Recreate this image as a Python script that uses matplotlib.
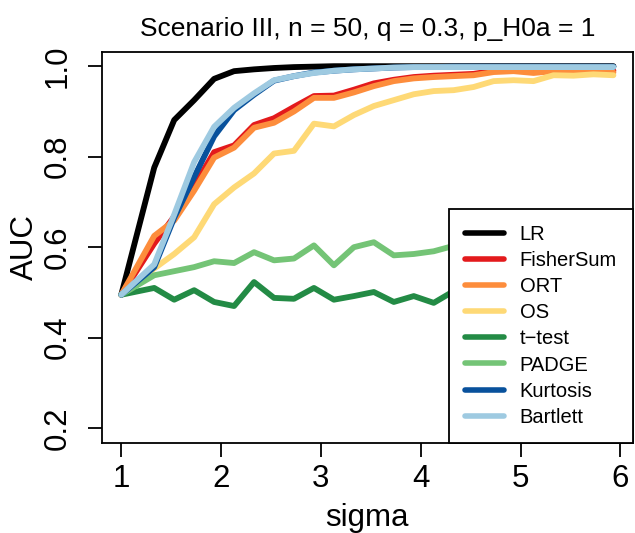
import matplotlib
matplotlib.use("Agg")
import matplotlib.pyplot as plt

plt.rcParams['font.family'] = ['Liberation Sans', 'DejaVu Sans']

sigma = [1.0, 1.33, 1.53, 1.73, 1.93, 2.13, 2.33, 2.53, 2.73, 2.93, 3.13, 3.33, 3.53,
         3.73, 3.93, 4.13, 4.33, 4.53, 4.73, 4.93, 5.13, 5.33, 5.53, 5.73, 5.93]

auc_lr = [0.495, 0.776, 0.881, 0.925, 0.972, 0.989, 0.993, 0.996, 0.998, 0.999, 1.0, 1.0, 1.0,
          1.0, 1.0, 1.0, 1.0, 1.0, 1.0, 1.0, 1.0, 1.0, 1.0, 1.0, 1.0]
auc_fisher = [0.495, 0.608, 0.668, 0.735, 0.81, 0.825, 0.87, 0.885, 0.91, 0.934, 0.935, 0.948, 0.962,
              0.97, 0.976, 0.979, 0.981, 0.983, 0.99, 0.991, 0.992, 0.991, 0.99, 0.99, 0.99]
auc_ort = [0.495, 0.625, 0.659, 0.725, 0.798, 0.82, 0.864, 0.875, 0.90, 0.93, 0.93, 0.942, 0.956,
           0.967, 0.973, 0.976, 0.978, 0.98, 0.987, 0.989, 0.985, 0.989, 0.989, 0.988, 0.986]
auc_os = [0.495, 0.553, 0.585, 0.622, 0.695, 0.732, 0.763, 0.807, 0.813, 0.873, 0.867, 0.892, 0.912,
          0.925, 0.938, 0.945, 0.947, 0.954, 0.967, 0.969, 0.967, 0.98, 0.979, 0.982, 0.98]
auc_ttest = [0.495, 0.51, 0.484, 0.505, 0.479, 0.47, 0.523, 0.488, 0.486, 0.51, 0.484, 0.492, 0.501,
             0.479, 0.492, 0.477, 0.503, 0.49, 0.5, 0.487, 0.496, 0.49, 0.498, 0.485, 0.493]
auc_padge = [0.495, 0.538, 0.547, 0.556, 0.569, 0.565, 0.589, 0.571, 0.575, 0.604, 0.56, 0.6, 0.611,
             0.582, 0.585, 0.591, 0.603, 0.595, 0.6, 0.592, 0.605, 0.598, 0.6, 0.596, 0.602]
auc_kurt = [0.495, 0.556, 0.665, 0.755, 0.845, 0.903, 0.937, 0.968, 0.978, 0.986, 0.99, 0.993, 0.995,
            0.997, 0.998, 0.998, 0.999, 0.999, 0.999, 0.999, 0.999, 0.999, 0.999, 0.999, 0.999]
auc_bart = [0.495, 0.562, 0.672, 0.788, 0.866, 0.908, 0.94, 0.969, 0.978, 0.985, 0.99, 0.993, 0.995,
            0.997, 0.998, 0.998, 0.998, 0.998, 0.998, 0.998, 0.998, 0.998, 0.998, 0.998, 0.998]

methods = ["LR", "FisherSum", "ORT", "OS", "t\u2212test", "PADGE", "Kurtosis", "Bartlett"]
colors = ["#000000", "#E31A1C", "#FD8D3C", "#FED976", "#238B45", "#74C476", "#08519C", "#9ECAE1"]
series = [auc_lr, auc_fisher, auc_ort, auc_os, auc_ttest, auc_padge, auc_kurt, auc_bart]

x_ticks = [1, 2, 3, 4, 5, 6]
y_ticks = [0.2, 0.4, 0.6, 0.8, 1.0]

fig = plt.figure(figsize=(6.35, 5.33), dpi=100)
ax = fig.add_axes([0.1600, 0.1694, 0.8370, 0.7336])

for vals, col, name in zip(series, colors, methods):
    ax.plot(sigma, vals, color=col, lw=4.2, label=name,
            solid_capstyle='round', solid_joinstyle='round')

# R-style 4% padding around the data range
xr = max(sigma) - min(sigma)
ax.set_xlim(min(sigma) - 0.04 * xr, max(sigma) + 0.04 * xr)
ax.set_ylim(0.2 - 0.032, 1.0 + 0.032)

ax.set_xticks(x_ticks)
ax.set_xticklabels([str(v) for v in x_ticks])
ax.set_yticks(y_ticks)
ax.set_yticklabels(["%.1f" % v for v in y_ticks])

for s in ax.spines.values():
    s.set_linewidth(1.3)
    s.set_color("black")

ax.tick_params(axis='both', direction='out', length=10, width=1.3,
               labelsize=22.5, colors='black')
ax.tick_params(axis='x', pad=5.5)
ax.tick_params(axis='y', pad=11, labelrotation=90)
for lab in ax.get_yticklabels():
    lab.set_va('center')

ax.set_xlabel("sigma", fontsize=22.5, labelpad=6)
ax.set_ylabel("AUC", fontsize=22.5, labelpad=2)
ax.set_title("Scenario III, n = 50, q = 0.3, p_H0a = 1", fontsize=19, pad=11)

leg = ax.legend(loc='lower right', fontsize=14.5, frameon=True, fancybox=False,
                borderaxespad=0, handlelength=1.9, handletextpad=0.8,
                labelspacing=0.35, borderpad=0.8)
frame = leg.get_frame()
frame.set_edgecolor("black")
frame.set_linewidth(1.3)
frame.set_alpha(1)
for line in leg.get_lines():
    line.set_linewidth(4)
    line.set_solid_capstyle('round')

fig.savefig("out.png", dpi=100)
